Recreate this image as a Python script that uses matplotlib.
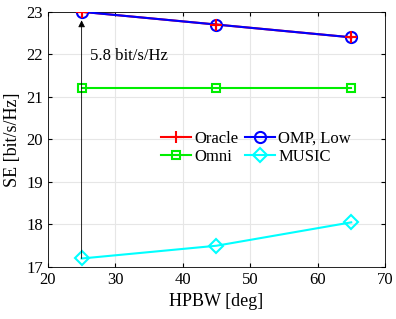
import numpy as np
import matplotlib.pyplot as plt

plt.rcParams['font.family'] = ['Liberation Serif', 'DejaVu Serif']

hpbw = [25, 45, 65]
oracle = [23.0, 22.7, 22.4]
omp_low = [23.0, 22.7, 22.4]
omni = [21.2, 21.2, 21.2]
music = [17.2, 17.5, 18.05]
gap_label = '5.8 bit/s/Hz'

fig = plt.figure(figsize=(3.96, 3.19), dpi=100)
ax = fig.add_axes([0.121, 0.163, 0.851, 0.8])

h1, = ax.plot(hpbw, oracle, color='red', marker='+', markersize=9, mew=1.5, lw=1.5, label='Oracle', zorder=2)
h2, = ax.plot(hpbw, omp_low, color='blue', marker='o', markersize=8, mfc='none', mew=1.5, lw=1.5, label='OMP, Low', zorder=3)
# red crosses stay visible inside the hollow circles
ax.plot(hpbw, oracle, color='red', marker='+', markersize=8, mew=1.5, ls='none', zorder=4)
h3, = ax.plot(hpbw, omni, color='#00ee00', marker='s', markersize=6, mfc='none', mew=1.5, lw=1.5, label='Omni')
h4, = ax.plot(hpbw, music, color='cyan', marker='D', markersize=7, mfc='none', mew=1.5, lw=1.5, label='MUSIC')

ax.annotate('', xy=(hpbw[0], 22.8), xytext=(hpbw[0], music[0]),
            arrowprops=dict(arrowstyle='-|>', color='black', lw=0.6, mutation_scale=10,
                            shrinkA=0, shrinkB=0))
ax.text(26.2, 21.95, gap_label, fontsize=12, va='center')

ax.set_xlim(20, 70)
ax.set_ylim(17, 23)
ax.set_xticks(np.arange(20, 71, 10))
ax.set_yticks(np.arange(17, 24, 1))
ax.grid(True, color='#e6e6e6', lw=0.8)
ax.set_axisbelow(True)
ax.tick_params(direction='in', labelsize=12, top=True, right=True, length=3)
for s in ax.spines.values():
    s.set_linewidth(0.6)
ax.set_xlabel('HPBW [deg]', fontsize=13)
ax.set_ylabel('SE [bit/s/Hz]', fontsize=13)

# MATLAB fills legend rows first, so reorder for column-wise matplotlib
ax.legend([h1, h3, h2, h4], ['Oracle', 'Omni', 'OMP, Low', 'MUSIC'],
          ncol=2, loc='upper left', bbox_to_anchor=(0.3, 0.58), frameon=False,
          fontsize=12, handlelength=1.8, columnspacing=0.4, handletextpad=0.2,
          labelspacing=0.15, borderpad=0.2)

fig.savefig('out.png', dpi=100)
